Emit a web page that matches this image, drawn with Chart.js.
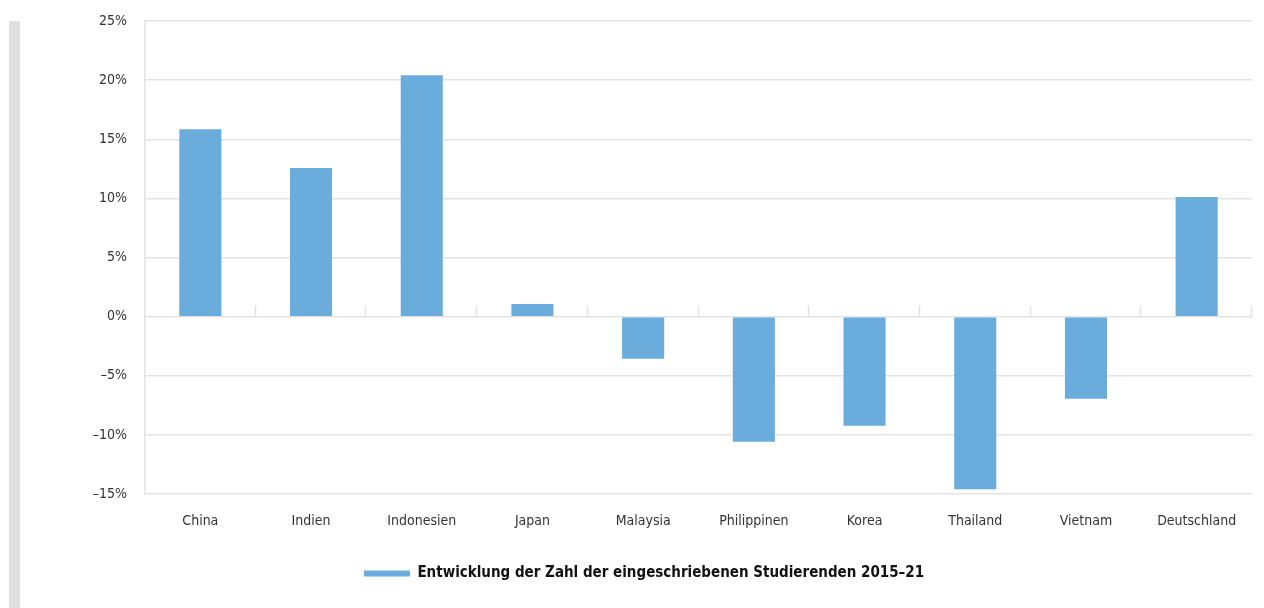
<!DOCTYPE html>
<html>
<head>
<meta charset="utf-8">
<script src="https://cdn.jsdelivr.net/npm/chart.js@4/dist/chart.umd.min.js"></script>
<style>
  html, body { margin: 0; padding: 0; background: #ffffff; }
  #wrap { position: relative; width: 1264px; height: 608px; overflow: hidden; }
  #side { position: absolute; left: 9px; top: 21px; width: 11px; height: 587px; background: #e0e0e0; }
  #c { position: absolute; left: 0; top: 0; }
</style>
</head>
<body>
<div id="wrap">
  <div id="side"></div>
  <canvas id="c" width="1264" height="608"></canvas>
</div>
<script>
const categories = ['China', 'Indien', 'Indonesien', 'Japan', 'Malaysia', 'Philippinen', 'Korea', 'Thailand', 'Vietnam', 'Deutschland'];
const enrolmentChange = [15.85, 12.56, 20.41, 1.07, -3.57, -10.58, -9.23, -14.6, -6.95, 10.11];
const seriesLabel = 'Entwicklung der Zahl der eingeschriebenen Studierenden 2015–21';
const yMin = -15, yMax = 25, yStep = 5;

const FONT = "'DejaVu Sans Condensed', 'Liberation Sans Narrow', sans-serif";
const BAR = '#6aacdc';
const GRID = '#e3e3e3';

const categoryTicks = {
  id: 'categoryTicks',
  afterDatasetsDraw(chart) {
    const x = chart.scales.x, y = chart.scales.y;
    const ctx = chart.ctx;
    const y0 = Math.round(y.getPixelForValue(0)) + 0.5;
    const half = (x.getPixelForValue(1) - x.getPixelForValue(0)) / 2;
    ctx.save();
    ctx.strokeStyle = GRID;
    ctx.lineWidth = 1.5;
    ctx.beginPath();
    for (let i = 0; i < categories.length; i++) {
      const bx = Math.round(x.getPixelForValue(i) + half) - 0.5;
      ctx.moveTo(bx, y0 - 12);
      ctx.lineTo(bx, y0);
    }
    ctx.stroke();
    ctx.restore();
  }
};

new Chart(document.getElementById('c'), {
  type: 'bar',
  data: {
    labels: categories,
    datasets: [{
      label: seriesLabel,
      data: enrolmentChange,
      backgroundColor: BAR,
      borderWidth: 0,
      barPercentage: 0.38,
      categoryPercentage: 1.0
    }]
  },
  options: {
    responsive: false,
    animation: false,
    devicePixelRatio: 1,
    layout: { padding: { left: 36, right: 12, top: 21, bottom: 17 } },
    plugins: {
      tooltip: { enabled: false },
      legend: {
        position: 'bottom',
        labels: {
          boxWidth: 46,
          boxHeight: 6,
          padding: 8,
          color: '#111111',
          font: { family: FONT, size: 15, weight: 'bold' }
        }
      }
    },
    scales: {
      x: {
        grid: { display: false, drawTicks: false },
        border: { display: false },
        ticks: { color: '#333333', padding: 19, font: { family: FONT, size: 14 } },
        afterFit(scale) { scale.height = 64; }
      },
      y: {
        min: yMin,
        max: yMax,
        grid: { color: GRID, lineWidth: 1.5, drawTicks: false },
        border: { display: true, color: GRID, width: 1.5 },
        ticks: {
          stepSize: yStep,
          padding: 18,
          color: '#333333',
          font: { family: FONT, size: 14 },
          callback: v => (v < 0 ? '–' + Math.abs(v) : v) + '%'
        },
        afterFit(scale) {
          scale.width = 109;
          scale.paddingTop = 0;
          scale.paddingBottom = 0;
        }
      }
    }
  },
  plugins: [categoryTicks]
});
</script>
</body>
</html>
